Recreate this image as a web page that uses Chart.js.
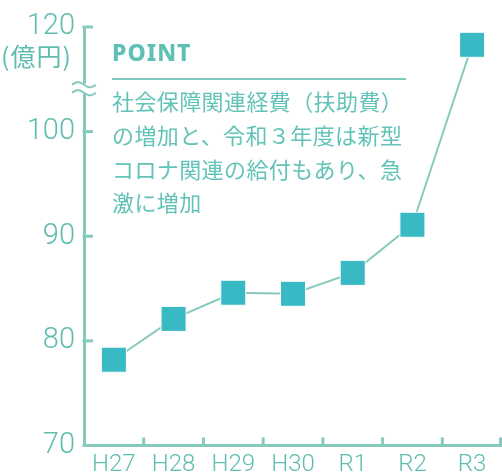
<!DOCTYPE html>
<html lang="ja">
<head>
<meta charset="utf-8">
<script src="https://cdn.jsdelivr.net/npm/chart.js@4/dist/chart.umd.min.js"></script>
<style>
  html, body { margin: 0; padding: 0; background: #fff; }
  #wrap { position: relative; width: 502px; height: 473px; }
  #chart { position: absolute; left: 0; top: 0; }
  .unit {
    position: absolute; left: 1px; top: 43px;
    font-family: 'Noto Sans CJK JP', sans-serif; font-size: 25px; line-height: 1;
    color: #5fbdb0; letter-spacing: 1px;
  }
  .point-title {
    position: absolute; left: 112px; top: 39px;
    font-family: 'Noto Sans', sans-serif; font-weight: 800; font-size: 23px; line-height: 1.2;
    color: #5fc1b6; letter-spacing: 1px;
  }
  .point-rule {
    position: absolute; left: 112px; top: 78px; width: 294px; height: 2px; background: #7ccabf;
  }
  .point-body {
    position: absolute; left: 112px; top: 84px; white-space: nowrap;
    font-family: 'Noto Sans CJK JP', sans-serif; font-size: 22px; line-height: 33.8px;
    color: #63c3b8; letter-spacing: 0.4px;
  }
</style>
</head>
<body>
<div id="wrap">
  <canvas id="chart" width="502" height="473"></canvas>
  <div class="unit">(億円)</div>
  <div class="point-title">POINT</div>
  <div class="point-rule"></div>
  <div class="point-body">社会保障関連経費（扶助費）<br>の増加と、令和３年度は新型<br>コロナ関連の給付もあり、急<br>激に増加</div>
</div>
<script>
// 年度
const labels = ['H27', 'H28', 'H29', 'H30', 'R1', 'R2', 'R3']
// 扶助費 (億円)
const values = [78.2, 82.1, 84.6, 84.5, 86.5, 91.1, 118.3]
// 目盛り
const yTicks = [70, 80, 90, 100, 120]

// 100〜110 を省略（波線）
const BREAK_FROM = 100
const BREAK_GAP = 10
const toAxis = v => (v > BREAK_FROM ? v - BREAK_GAP : v)
const fromAxis = v => (v > BREAK_FROM ? v + BREAK_GAP : v)

const axisColor = '#86c9bd'
const textColor = '#5fbdb0'

// 軸の内側の目盛りと波線
const axisDecor = {
  id: 'axisDecor',
  afterDraw(chart) {
    const { ctx, chartArea } = chart
    const y = chart.scales.y
    ctx.save()
    ctx.strokeStyle = axisColor
    ctx.lineWidth = 3
    ctx.lineCap = 'butt'
    // y目盛り（右向き）
    yTicks.forEach(t => {
      const py = y.getPixelForValue(toAxis(t))
      ctx.beginPath()
      ctx.moveTo(chartArea.left - 1.5, py)
      ctx.lineTo(chartArea.left + 9, py)
      ctx.stroke()
    })
    // x目盛り（上向き）
    const step = (chartArea.right - chartArea.left) / labels.length
    for (let i = 1; i <= labels.length; i++) {
      const px = Math.min(chartArea.left + step * i, chartArea.right - 1.5)
      ctx.beginPath()
      ctx.moveTo(px, chartArea.bottom + 1.5)
      ctx.lineTo(px, chartArea.bottom - 8)
      ctx.stroke()
    }
    // 波線
    const mid = y.getPixelForValue(BREAK_FROM + 4.1)
    ctx.fillStyle = '#fff'
    ctx.fillRect(chartArea.left - 3, mid - 5, 6, 10)
    ctx.lineWidth = 2
    ;[-4, 4].forEach(off => {
      ctx.beginPath()
      for (let k = 0; k <= 24; k++) {
        const px = chartArea.left - 12 + k
        const py = mid + off - 2.5 * Math.sin((k / 24) * Math.PI * 2)
        if (k === 0) ctx.moveTo(px, py)
        else ctx.lineTo(px, py)
      }
      ctx.stroke()
    })
    ctx.restore()
  }
}

new Chart(document.getElementById('chart'), {
  type: 'line',
  data: {
    labels: labels,
    datasets: [{
      data: values.map(toAxis),
      borderColor: axisColor,
      borderWidth: 2,
      tension: 0,
      pointStyle: 'rect',
      pointRadius: 17.7,
      pointHoverRadius: 17.7,
      pointBackgroundColor: '#38b9c4',
      pointBorderColor: '#ffffff',
      pointBorderWidth: 1,
      clip: false
    }]
  },
  options: {
    responsive: false,
    animation: false,
    events: [],
    layout: { autoPadding: false, padding: { top: 27, right: 0, left: 0, bottom: 0 } },
    plugins: {
      legend: { display: false },
      tooltip: { enabled: false }
    },
    scales: {
      x: {
        offset: true,
        grid: { display: false, drawTicks: false },
        border: { color: axisColor, width: 3 },
        ticks: {
          color: textColor,
          padding: 5,
          font: { family: 'Roboto', size: 24, weight: 300 }
        },
        afterFit(scale) { scale.height = 27.5 }
      },
      y: {
        min: 70,
        max: toAxis(120),
        grid: { display: false, drawTicks: false },
        border: { color: axisColor, width: 3 },
        afterBuildTicks(scale) {
          scale.ticks = yTicks.map(t => ({ value: toAxis(t) }))
        },
        afterFit(scale) { scale.width = 84 },
        ticks: {
          color: textColor,
          padding: 9,
          font: { family: 'Roboto', size: 29, weight: 300 },
          callback: v => String(fromAxis(v))
        }
      }
    }
  },
  plugins: [axisDecor]
})
</script>
</body>
</html>
